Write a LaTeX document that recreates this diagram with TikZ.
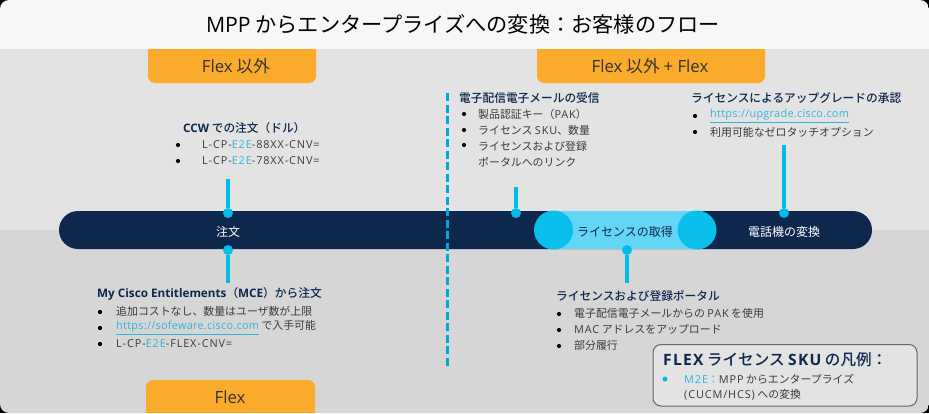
\documentclass[tikz,border=0pt]{standalone}
\usepackage{fontspec}
\setmainfont[BoldFont={Noto Sans CJK JP Medium}]{Noto Sans CJK JP}
\newfontfamily\latfont{Open Sans}
\newfontfamily\widefont[LetterSpace=8]{Open Sans}
\newfontfamily\linkfont[LetterSpace=2.5]{Open Sans}
\newcommand{\lat}[1]{{\latfont #1}}
\newcommand{\wide}[1]{{\widefont #1}}
\definecolor{navybar}{HTML}{0D274D}
\definecolor{cyanline}{HTML}{00BCEB}
\definecolor{cyanlight}{HTML}{64D6F5}
\definecolor{tabfill}{HTML}{FBAB2C}
\definecolor{bodygray}{HTML}{3A3A3A}
\definecolor{linkblue}{HTML}{2FB4DC}
\newcommand{\etoe}{\textcolor{linkblue}{E2E}}
\newcommand{\weblink}[1]{{\linkfont\textcolor{linkblue}{\underline{#1}}}}
\tikzset{
  headline/.style={anchor=west, inner sep=0pt, font=\fontsize{11.7}{13}\selectfont\bfseries, text=navybar},
  bodyline/.style={anchor=west, inner sep=0pt, font=\fontsize{10.9}{13}\selectfont, text=bodygray},
  bulletdot/.style={circle, fill=black, inner sep=0pt, minimum size=4.2pt},
  tabbox/.style={fill=tabfill, rounded corners=7pt},
  tablabel/.style={inner sep=0pt, font=\fontsize{16.8}{18}\selectfont, text=black!80},
  barlabel/.style={inner sep=0pt, font=\fontsize{12}{13}\selectfont},
  stemdot/.style={circle, fill=cyanline, inner sep=0pt, minimum size=10pt},
  stemline/.style={draw=cyanline, line width=3.2pt},
  capcircle/.style={circle, fill=cyanline!90!cyanlight, inner sep=0pt, minimum size=39pt},
}
\begin{document}
\begin{tikzpicture}[x=1pt,y=-1pt]
\useasboundingbox (0,0) rectangle (929,413);
\fill[black] (0,0) rectangle (929,413);
\begin{scope}
\clip[rounded corners=9pt] (0,0) rectangle (929,413);
\fill[black!11] (0,49) rectangle (929,230);
\fill[black!16] (0,230) rectangle (929,413);
\fill[tabbox] (148,40) rectangle (316,83);
\fill[tabbox] (537,40) rectangle (765,83);
\fill[tabbox] (146,380) rectangle (315,425);
\fill[white!97!black] (0,0) rectangle (929,49);
\end{scope}

\node[inner sep=0pt, font=\fontsize{21.2}{24}\selectfont] (title) at (463,24){\lat{MPP} からエンタープライズへの変換：お客様のフロー};
\node[tablabel] (tabnonflex) at (236,66){\lat{Flex} 以外};
\node[tablabel] (tabboth) at (650,66){\lat{Flex} 以外 \lat{+ Flex}};
\node[tablabel] (tabflex) at (230,397){\lat{Flex}};

\fill[navybar, rounded corners=19pt] (59,211) rectangle (872,249);
\fill[cyanlight] (553,211) rectangle (697,249);
\node[capcircle] (capleft) at (553.5,230){};
\node[capcircle] (capright) at (697,230){};
\node[barlabel, text=white] (order) at (228,232){注文};
\node[barlabel, text=navybar] (obtain) at (625,232){ライセンスの取得};
\node[barlabel, text=white] (convert) at (784,232){電話機の変換};

\coordinate (tipccw) at (228,179);
\coordinate (tipmce) at (228,283);
\coordinate (tipmail) at (516,187);
\coordinate (tipportal) at (627,283);
\coordinate (tipupgrade) at (784,145);
\node[stemdot] (dotccw) at (228,213){};
\node[stemdot] (dotmce) at (228,250){};
\node[stemdot] (dotmail) at (516,213){};
\node[stemdot] (dotportal) at (627,250){};
\node[stemdot] (dotupgrade) at (784,213){};
\draw[stemline] (dotccw) -- (tipccw);
\draw[stemline] (dotmce) -- (tipmce);
\draw[stemline] (dotmail) -- (tipmail);
\draw[stemline] (dotportal) -- (tipportal);
\draw[stemline] (dotupgrade) -- (tipupgrade);

\coordinate (splittop) at (447,93);
\coordinate (splitbottom) at (447,369);
\draw[cyanline!90!black, line width=3pt, dash pattern=on 8pt off 3.5pt] (splittop) -- (splitbottom);

\node[headline] (ccwhead) at (183,128){\lat{CCW} での注文（ドル）};
\node[bulletdot] (ccwdota) at (178,145){};
\node[bodyline] (ccwa) at (202,144.5){\wide{L-CP-\etoe-88XX-CNV=}};
\node[bulletdot] (ccwdotb) at (178,161){};
\node[bodyline] (ccwb) at (202,160.5){\wide{L-CP-\etoe-78XX-CNV=}};

\node[headline] (mcehead) at (97,294){\lat{My Cisco Entitlements}（\lat{MCE}）から注文};
\node[bulletdot] (mcedota) at (100,312){};
\node[bodyline] (mcea) at (116,311.5){追加コストなし、数量はユーザ数が上限};
\node[bulletdot] (mcedotb) at (100,328){};
\node[bodyline] (mceb) at (116,327.5){\weblink{https://sofeware.cisco.com} で入手可能};
\node[bulletdot] (mcedotc) at (100,344){};
\node[bodyline] (mcec) at (116,343.5){\wide{L-CP-\etoe-FLEX-CNV=}};

\node[headline] (mailhead) at (459,98){電子配信電子メールの受信};
\node[bulletdot] (maildota) at (464,114){};
\node[bodyline] (maila) at (478,114){製品認証キー（\wide{PAK}）};
\node[bulletdot] (maildotb) at (464,130){};
\node[bodyline] (mailb) at (478,130){ライセンス \wide{SKU}、数量};
\node[bulletdot] (maildotc) at (464,145){};
\node[bodyline] (mailc) at (478,146){ライセンスおよび登録};
\node[bodyline] (maild) at (478,162){ポータルへのリンク};

\node[headline] (upghead) at (691,98){ライセンスによるアップグレードの承認};
\node[bulletdot] (upgdota) at (695,116){};
\node[bodyline] (upga) at (710,116){\weblink{https://upgrade.cisco.com}};
\node[bulletdot] (upgdotb) at (695,132){};
\node[bodyline] (upgb) at (710,132){利用可能なゼロタッチオプション};

\node[headline] (porthead) at (556,296){ライセンスおよび登録ポータル};
\node[bulletdot] (portdota) at (559,314){};
\node[bodyline] (porta) at (574,313){電子配信電子メールからの \wide{PAK} を使用};
\node[bulletdot] (portdotb) at (559,330){};
\node[bodyline] (portb) at (574,329){\wide{MAC} アドレスをアップロード};
\node[bulletdot] (portdotc) at (559,346){};
\node[bodyline] (portc) at (574,345){部分履行};

\draw[black!60, line width=1pt, fill=black!11, rounded corners=8pt] (653,344.5) rectangle (917,406);
\node[anchor=west, inner sep=0pt, font=\fontsize{15.6}{18}\selectfont\bfseries, text=navybar] (legendhead) at (663,360){\wide{FLEX} ライセンス \wide{SKU} の凡例：};
\node[bulletdot, fill=cyanline, minimum size=5pt] (legenddot) at (665,379){};
\node[bodyline] (legenda) at (684,379){\textcolor{linkblue}{\wide{M2E}：}\wide{MPP} からエンタープライズ};
\node[bodyline] (legendb) at (684,394.5){\wide{(CUCM/HCS)} への変換};
\end{tikzpicture}
\end{document}
